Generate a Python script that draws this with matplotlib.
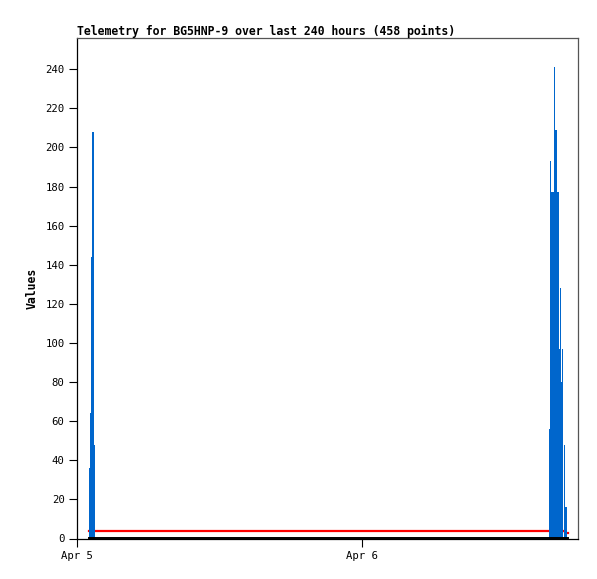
import matplotlib
matplotlib.use("Agg")
import matplotlib.pyplot as plt

# hours after Apr 5 00:00, left edge of each bar
bar_start = [1.01, 1.09, 1.18, 1.26, 1.43,
             39.75, 39.83, 39.92, 40.17, 40.30, 40.42, 40.59, 40.67,
             40.76, 40.84, 41.01, 41.14]
bar_end = [1.09, 1.18, 1.26, 1.43, 1.52,
           39.83, 39.92, 40.17, 40.30, 40.42, 40.59, 40.67, 40.76,
           40.84, 40.93, 41.14, 41.26]
bar_values = [36, 64, 144, 208, 48,
              56, 193, 177, 241, 209, 177, 97, 128,
              80, 97, 48, 16]

red_x = [1.0, 41.1, 41.1, 41.35]
red_y = [3.6, 3.6, 3.0, 3.0]
black_x = [1.0, 41.35]
black_y = [0.4, 0.4]

tick_hours = [0, 24]
tick_labels = ["Apr 5", "Apr 6"]

fig = plt.figure(figsize=(5.97, 5.79), dpi=100)
ax = fig.add_axes([77/597, 1 - 538.5/579, (578 - 77)/597, (538.5 - 38)/579])

widths = [e - s for s, e in zip(bar_start, bar_end)]
ax.bar(bar_start, bar_values, width=widths, align='edge', color='#0066cc',
       linewidth=0, zorder=3)
ax.plot(red_x, red_y, color='#ff0000', linewidth=1.6, zorder=2)
ax.plot(black_x, black_y, color='black', linewidth=1.4, zorder=4,
        clip_on=False)

ax.set_xlim(0, 42.2)
ax.set_ylim(0, 256)
ax.set_yticks(range(0, 241, 20))
ax.set_xticks(tick_hours)
ax.set_xticklabels(tick_labels)

mono = 'DejaVu Sans Mono'
for lbl in ax.get_yticklabels() + ax.get_xticklabels():
    lbl.set_fontfamily(mono)
    lbl.set_fontsize(7.7)
ax.tick_params(axis='both', length=6, width=0.8, color='black', pad=3)

for side in ['left', 'bottom']:
    ax.spines[side].set_color('black')
    ax.spines[side].set_linewidth(0.9)
for side in ['top', 'right']:
    ax.spines[side].set_color('#555555')
    ax.spines[side].set_linewidth(0.9)

ax.set_title('Telemetry for BG5HNP-9 over last 240 hours (458 points)',
             loc='left', fontfamily=mono, fontweight='bold', fontsize=8.3,
             pad=2)
ax.set_ylabel('Values', fontfamily=mono, fontweight='bold', fontsize=8.3,
              labelpad=5)

fig.savefig('out.png', dpi=100)
